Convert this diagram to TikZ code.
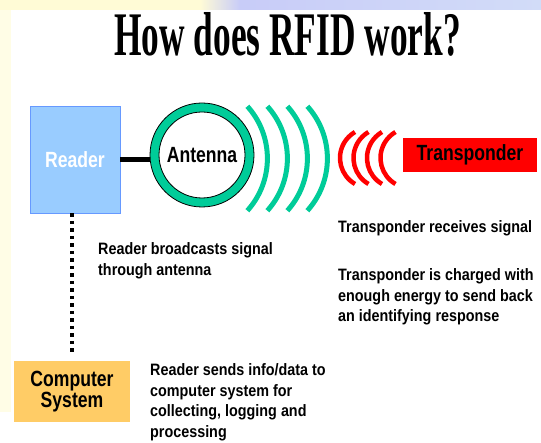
\documentclass[tikz,border=0pt]{standalone}
\usepackage{fontspec}
\setmainfont{Liberation Serif}
\newfontfamily\titlefont{Liberation Serif}[FakeStretch=0.57]
\newfontfamily\labfont{Liberation Sans}[FakeStretch=0.8]
\newfontfamily\txtfont{Liberation Sans}[FakeStretch=0.87]
\definecolor{readerblue}{HTML}{99CCFF}
\definecolor{readeredge}{HTML}{6699FF}
\definecolor{antgreen}{HTML}{00CC99}
\definecolor{compyellow}{HTML}{FFCC66}
\definecolor{paleyellow}{HTML}{FFFBD6}
\definecolor{stripyellow}{HTML}{FFFDE6}
\definecolor{lavender}{HTML}{C8CCF8}
\definecolor{lavlight}{HTML}{D2DCF8}
\tikzset{
  labeltext/.style={font=\labfont\bfseries\fontsize{22}{22}\selectfont},
  bodytext/.style={font=\txtfont\bfseries\fontsize{16.5}{20.5}\selectfont, anchor=base west, inner sep=0pt},
  greenarc/.style={draw=antgreen, line width=5pt},
  redarc/.style={draw=red, line width=4.5pt},
}
\begin{document}
\begin{tikzpicture}[x=1pt,y=-1pt]
\useasboundingbox (0,0) rectangle (541,443);
\fill[white] (0,0) rectangle (541,443);
% background strips
\fill[stripyellow] (0,0) rectangle (11,412);
\fill[paleyellow] (0,0) rectangle (200,10);
\shade[left color=paleyellow, right color=lavender] (200,0) rectangle (240,10);
\shade[left color=lavender, right color=lavlight] (240,0) rectangle (541,10);
% title
\node[anchor=base, inner sep=0pt, font=\titlefont\bfseries\fontsize{62}{62}\selectfont] (title) at (287.5,56) {How does RFID work?};
% reader
\node[labeltext, text=white, fill=readerblue, draw=readeredge, line width=0.8pt,
      minimum width=90pt, minimum height=107pt, inner sep=0pt] (reader) at (75,159.5) {Reader};
% antenna
\node[labeltext, circle, draw=antgreen, line width=9pt, minimum size=95pt, inner sep=0pt] (ant) at (202,155) {Antenna};
\draw[black, line width=0.8pt] (ant.center) circle[radius=52];
\draw[black, line width=0.8pt] (ant.center) circle[radius=43];
\draw[black, line width=5.5pt] (reader.east) -- (reader.east -| ant.west);
% green waves
\foreach \cx in {189.4,209.4,229.4,249.4}{
  \draw[greenarc] (\cx,158.5) ++(-42:78) arc[start angle=-42, end angle=42, radius=78];
}
% red waves
\foreach \cx in {370,383.5,397,410.5}{
  \draw[redarc] (\cx,158) ++(120:30) arc[start angle=120, end angle=240, radius=30];
}
% transponder
\node[labeltext, fill=red, minimum width=134pt, minimum height=34pt, inner sep=0pt] (trans) at (470,155) {Transponder};
% computer system
\node[labeltext, fill=compyellow, minimum width=116pt, minimum height=61pt, inner sep=0pt, align=center,
      font=\labfont\bfseries\fontsize{22}{21}\selectfont] (comp) at (72,391.5) {Computer\\System};
\draw[black, line width=3.5pt, dash pattern=on 3.3pt off 4.2pt, shorten >=5pt] (reader.south -| comp.north) -- (comp.north);
% texts
\node[bodytext] (t1) at (98,255) {\begin{tabular}[t]{@{}l@{}}Reader broadcasts signal\\through antenna\end{tabular}};
\node[bodytext] (t2) at (338,233) {Transponder receives signal};
\node[bodytext] (t3) at (338,281) {\begin{tabular}[t]{@{}l@{}}Transponder is charged with\\enough energy to send back\\an identifying response\end{tabular}};
\node[bodytext] (t4) at (150,376) {\begin{tabular}[t]{@{}l@{}}Reader sends info/data to\\computer system for\\collecting, logging and\\processing\end{tabular}};
\end{tikzpicture}
\end{document}
